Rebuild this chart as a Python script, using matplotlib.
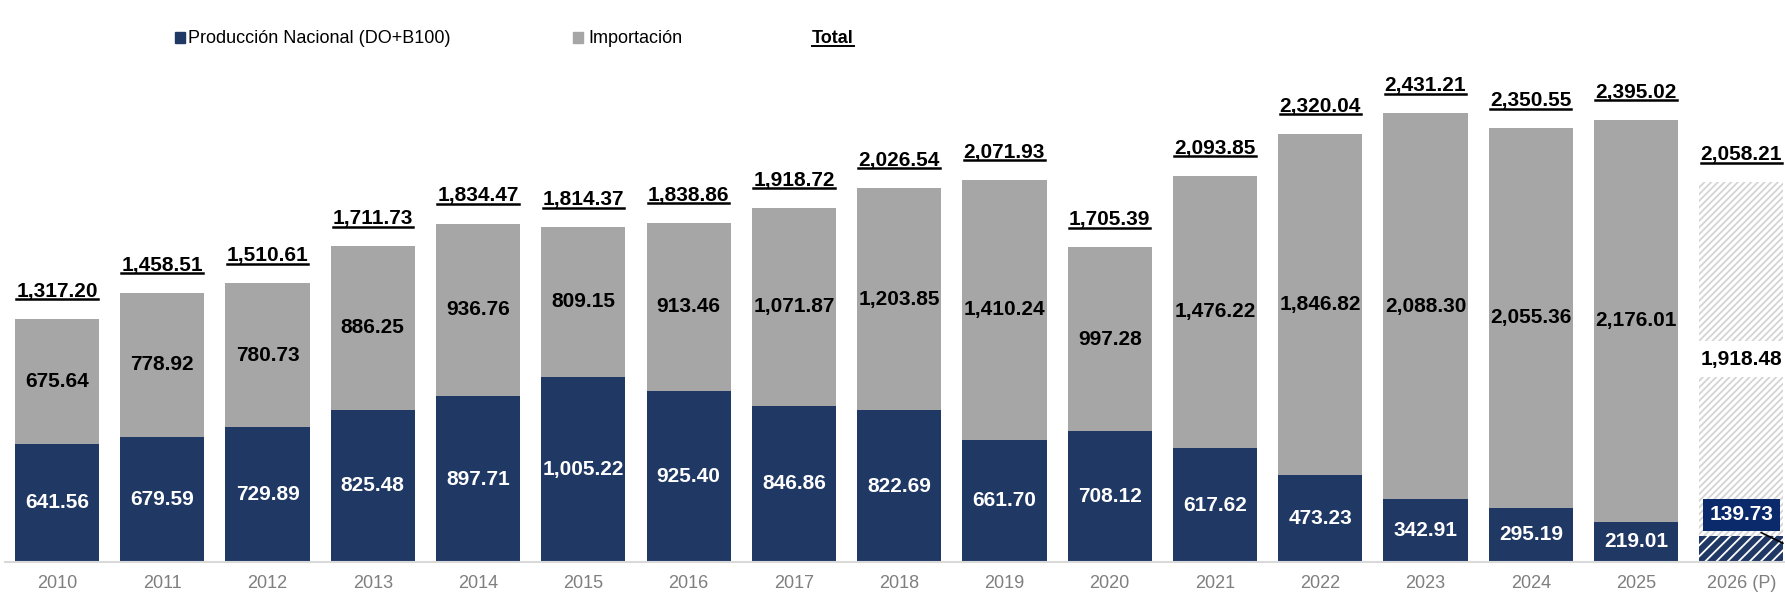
import matplotlib.pyplot as plt
import numpy as np
from matplotlib.patches import Rectangle
from matplotlib.lines import Line2D

plt.rcParams['font.family'] = ['Liberation Sans', 'DejaVu Sans']
plt.rcParams['hatch.linewidth'] = 1.3

# data
years = ['2010', '2011', '2012', '2013', '2014', '2015', '2016', '2017', '2018',
         '2019', '2020', '2021', '2022', '2023', '2024', '2025', '2026 (P)']
nacional = [641.56, 679.59, 729.89, 825.48, 897.71, 1005.22, 925.40, 846.86, 822.69,
            661.70, 708.12, 617.62, 473.23, 342.91, 295.19, 219.01, 139.73]
importacion = [675.64, 778.92, 780.73, 886.25, 936.76, 809.15, 913.46, 1071.87, 1203.85,
               1410.24, 997.28, 1476.22, 1846.82, 2088.30, 2055.36, 2176.01, 1918.48]
total = [1317.20, 1458.51, 1510.61, 1711.73, 1834.47, 1814.37, 1838.86, 1918.72, 2026.54,
         2071.93, 1705.39, 2093.85, 2320.04, 2431.21, 2350.55, 2395.02, 2058.21]

navy = '#203864'
grey = '#a6a6a6'
W, H = 1785, 596

fig = plt.figure(figsize=(W / 100, H / 100), dpi=100)
# axes starts a few px in from the left, like the original baseline
ax = fig.add_axes([5 / W, 34 / H, 1 - 5 / W, 562 / H])

x = np.arange(len(years))
nac = np.array(nacional)
imp = np.array(importacion)

# historic bars
ax.bar(x[:-1], nac[:-1], width=0.8, color=navy, linewidth=0)
ax.bar(x[:-1], imp[:-1], bottom=nac[:-1], width=0.8, color=grey, linewidth=0)

# projected bar (hatched)
ax.bar(x[-1], nac[-1], width=0.8, color=navy, edgecolor='white', hatch='///', linewidth=0)
ax.bar(x[-1], imp[-1], bottom=nac[-1], width=0.8, color='white', edgecolor='#d4d4d4',
       hatch='/////', linewidth=0)

ax.set_xlim(-0.494, 16.415)
ax.set_ylim(0, 562 / 0.1845)

# segment labels
for i in x[:-1]:
    ax.text(i, nac[i] / 2, f'{nac[i]:,.2f}', ha='center', va='center',
            color='white', fontsize=15, fontweight='bold')
    ax.text(i, nac[i] + imp[i] / 2, f'{imp[i]:,.2f}', ha='center', va='center',
            color='black', fontsize=15, fontweight='bold')

# projected labels
i = x[-1]
ax.text(i, nac[i] + imp[i] / 2, f'{imp[i]:,.2f}', ha='center', va='center',
        color='black', fontsize=15, fontweight='bold',
        bbox=dict(facecolor='white', edgecolor='none', pad=6))
ax.annotate(f'{nac[i]:,.2f}', xy=(i + 0.42, 95), xytext=(i, 255),
            ha='center', va='center', color='white', fontsize=15, fontweight='bold',
            bbox=dict(facecolor='#0b2a6b', edgecolor='none', pad=5),
            arrowprops=dict(arrowstyle='-', color='black', lw=1.2, relpos=(0.55, 0)),
            annotation_clip=False)

# totals
tot_texts = []
for i in x:
    t = ax.text(i, total[i] + 120, f'{total[i]:,.2f}', ha='center', va='baseline',
                color='black', fontsize=15, fontweight='bold')
    tot_texts.append(t)

# axis styling
for s in ['top', 'right', 'left']:
    ax.spines[s].set_visible(False)
ax.spines['bottom'].set_color('#d9d9d9')
ax.spines['bottom'].set_linewidth(1.5)
ax.set_yticks([])
ax.set_xticks(x)
ax.set_xticklabels(years, fontsize=13, color='#7f7f7f')
ax.tick_params(axis='x', length=0, pad=9)

# legend drawn by hand
fig.patches.append(Rectangle((175 / W, 1 - 42.5 / H), 10 / W, 10 / H,
                             transform=fig.transFigure, color=navy))
fig.text(188 / W, 1 - 43.3 / H, 'Producción Nacional (DO+B100)', fontsize=13,
         va='baseline', color='black')
fig.patches.append(Rectangle((573 / W, 1 - 42.5 / H), 10 / W, 10 / H,
                             transform=fig.transFigure, color=grey))
fig.text(588 / W, 1 - 43.3 / H, 'Importación', fontsize=13, va='baseline', color='black')
leg_total = fig.text(812 / W, 1 - 43.3 / H, 'Total', fontsize=13, fontweight='bold',
                     va='baseline', color='black')

# underline the totals
fig.canvas.draw()
r = fig.canvas.get_renderer()
for t, lw in [(tt, 1.8) for tt in tot_texts] + [(leg_total, 1.4)]:
    bb = t.get_window_extent(r)
    yy = (bb.y0 + 1.5) / H
    fig.add_artist(Line2D([bb.x0 / W, bb.x1 / W], [yy, yy], color='black', lw=lw))

fig.savefig('out.png', dpi=100)
